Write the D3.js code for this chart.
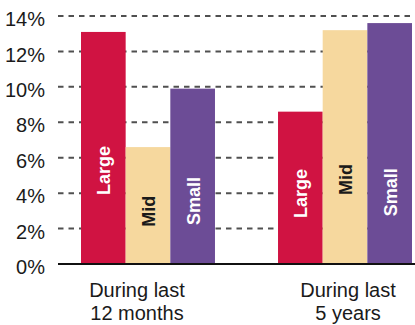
<!DOCTYPE html>
<html>
<head>
<meta charset="utf-8">
<script src="https://cdn.jsdelivr.net/npm/d3@7"></script>
<style>
  html, body { margin: 0; padding: 0; background: #fff; }
  svg { display: block; font-family: "Liberation Sans", Arial, Helvetica, sans-serif; }
</style>
</head>
<body>
<svg id="chart" width="415" height="325"></svg>
<script>
// Return by company size over two horizons (%)
const periods = ["During last|12 months", "During last|5 years"];
const sizes = ["Large", "Mid", "Small"];
const large = [13.1, 8.6];
const mid = [6.6, 13.2];
const small = [9.9, 13.6];
const yTicks = [0, 2, 4, 6, 8, 10, 12, 14];

const sizeColors = { Large: "#d01342", Mid: "#f6d89e", Small: "#6c4c96" };
const labelColors = { Large: "#ffffff", Mid: "#1a1a1a", Small: "#ffffff" };
const labelShift = [-11, 3]; // horizontal nudge of category captions

const seriesBySize = { Large: large, Mid: mid, Small: small };

const svg = d3.select("#chart");
const plotLeft = 58, plotRight = 415, plotTop = 16, plotBottom = 264;

const y = d3.scaleLinear().domain([0, 14]).range([plotBottom, plotTop]);

const x0 = d3.scaleBand()
  .domain(periods)
  .range([81, 412])
  .paddingInner(0.32)
  .paddingOuter(0);

const x1 = d3.scaleBand()
  .domain(sizes)
  .range([0, x0.bandwidth()])
  .padding(0);

// Dashed gridlines
svg.append("g")
  .selectAll("line")
  .data(yTicks.filter(d => d > 0))
  .join("line")
  .attr("x1", plotLeft)
  .attr("x2", plotRight)
  .attr("y1", d => y(d))
  .attr("y2", d => y(d))
  .attr("stroke", "#505050")
  .attr("stroke-width", 2)
  .attr("stroke-dasharray", "5.5,5");

// Y axis tick labels
const yAxis = d3.axisLeft(y)
  .tickValues(yTicks)
  .tickFormat(d => d + "%")
  .tickSize(0)
  .tickPadding(0);

const yg = svg.append("g")
  .attr("transform", "translate(45,0)")
  .call(yAxis);
yg.select(".domain").remove();
yg.selectAll("text")
  .attr("font-size", 20)
  .attr("fill", "#1a1a1a")
  .attr("font-family", "'Liberation Sans', Arial, sans-serif")
  .attr("dy", "0.48em");

// Bars
const groups = svg.append("g")
  .selectAll("g")
  .data(periods.map((p, i) => ({ period: p, i })))
  .join("g")
  .attr("transform", d => `translate(${x0(d.period)},0)`);

groups.selectAll("rect")
  .data(d => sizes.map(s => ({ size: s, value: seriesBySize[s][d.i] })))
  .join("rect")
  .attr("x", d => x1(d.size))
  .attr("width", x1.bandwidth())
  .attr("y", d => y(d.value))
  .attr("height", d => y(0) - y(d.value))
  .attr("fill", d => sizeColors[d.size]);

// Rotated size labels inside bars (start value in % height)
const labelBase = [
  { Large: 3.9, Mid: 2.1, Small: 2.2 },
  { Large: 2.6, Mid: 3.9, Small: 2.7 }
];

groups.selectAll("text.size")
  .data(d => sizes.map(s => ({ size: s, start: labelBase[d.i][s] })))
  .join("text")
  .attr("class", "size")
  .attr("transform", d => `translate(${x1(d.size) + x1.bandwidth() / 2 + 1},${y(d.start)}) rotate(-90)`)
  .attr("dominant-baseline", "central")
  .attr("font-size", 18)
  .attr("font-weight", "bold")
  .attr("fill", d => labelColors[d.size])
  .text(d => d.size);

// Baseline
svg.append("line")
  .attr("x1", plotLeft)
  .attr("x2", plotRight)
  .attr("y1", y(0))
  .attr("y2", y(0))
  .attr("stroke", "#111")
  .attr("stroke-width", 2);

// Category captions
const cap = svg.append("g")
  .selectAll("text")
  .data(periods.map((p, i) => ({ period: p, i })))
  .join("text")
  .attr("text-anchor", "middle")
  .attr("font-size", 20)
  .attr("fill", "#1a1a1a")
  .attr("x", d => x0(d.period) + x0.bandwidth() / 2 + labelShift[d.i])
  .attr("y", 297);

cap.selectAll("tspan")
  .data(d => d.period.split("|").map(t => ({ t, x: x0(d.period) + x0.bandwidth() / 2 + labelShift[d.i] })))
  .join("tspan")
  .attr("x", d => d.x)
  .attr("dy", (d, i) => i === 0 ? 0 : 23)
  .text(d => d.t);
</script>
</body>
</html>
